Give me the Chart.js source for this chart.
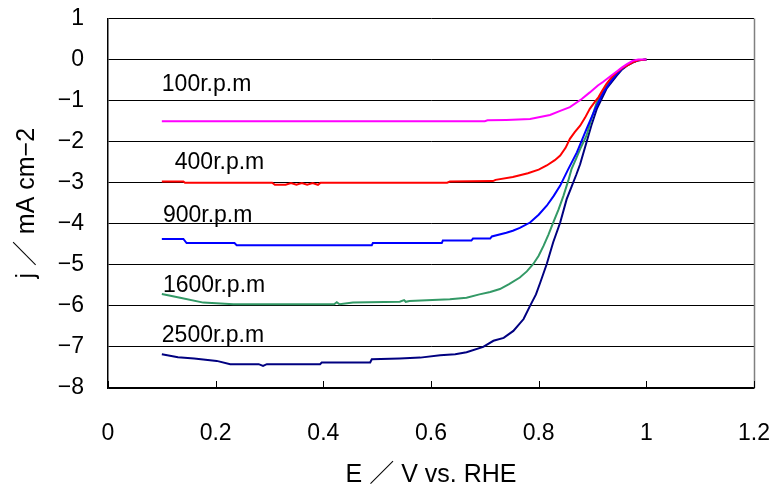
<!DOCTYPE html>
<html>
<head>
<meta charset="utf-8">
<script src="https://cdn.jsdelivr.net/npm/chart.js@4/dist/chart.umd.min.js"></script>
<style>
  html, body { margin: 0; padding: 0; background: #ffffff; }
  #wrap { width: 776px; height: 489px; }
</style>
</head>
<body>
<div id="wrap"><canvas id="rde" width="776" height="489"></canvas></div>
<script>
// Rotating-disk polarisation curves: current density j vs. potential E
const E100 = [0.10, 0.70, 0.705, 0.74, 0.784, 0.821, 0.84, 0.858, 0.88, 0.895, 0.91, 0.92, 0.935, 0.945, 0.955, 0.964, 0.975, 0.985, 1.00];
const J100 = [-1.50, -1.50, -1.48, -1.47, -1.45, -1.35, -1.25, -1.16, -0.96, -0.80, -0.63, -0.54, -0.39, -0.29, -0.19, -0.11, -0.03, 0.00, 0.00];

const E400 = [0.10, 0.14, 0.143, 0.305, 0.31, 0.33, 0.34, 0.35, 0.36, 0.37, 0.38, 0.39, 0.395, 0.63, 0.635, 0.715, 0.72, 0.752, 0.78, 0.80, 0.815, 0.83, 0.84, 0.85, 0.858, 0.867, 0.877, 0.886, 0.895, 0.905, 0.911, 0.918, 0.926, 0.935, 0.945, 0.955, 0.964, 0.975, 0.985, 1.00];
const J400 = [-2.97, -2.97, -3.00, -3.00, -3.05, -3.05, -3.01, -3.05, -3.01, -3.05, -3.01, -3.05, -3.00, -3.00, -2.97, -2.96, -2.93, -2.86, -2.77, -2.68, -2.58, -2.45, -2.34, -2.15, -1.93, -1.77, -1.61, -1.42, -1.20, -1.02, -0.92, -0.76, -0.59, -0.44, -0.31, -0.21, -0.15, -0.07, -0.02, 0.00];

const E900 = [0.10, 0.14, 0.146, 0.235, 0.239, 0.49, 0.492, 0.62, 0.622, 0.675, 0.678, 0.71, 0.713, 0.74, 0.752, 0.765, 0.784, 0.80, 0.815, 0.828, 0.840, 0.855, 0.871, 0.889, 0.905, 0.920, 0.933, 0.945, 0.955, 0.964, 0.975, 0.985, 1.00];
const J900 = [-4.37, -4.37, -4.47, -4.47, -4.52, -4.52, -4.47, -4.47, -4.41, -4.41, -4.36, -4.36, -4.31, -4.22, -4.17, -4.10, -3.97, -3.78, -3.56, -3.32, -3.07, -2.67, -2.26, -1.69, -1.20, -0.80, -0.55, -0.35, -0.22, -0.14, -0.07, -0.02, 0.00];

const E1600 = [0.10, 0.134, 0.177, 0.233, 0.42, 0.425, 0.43, 0.455, 0.542, 0.55, 0.553, 0.56, 0.635, 0.666, 0.69, 0.71, 0.728, 0.745, 0.765, 0.778, 0.790, 0.800, 0.809, 0.818, 0.827, 0.837, 0.846, 0.855, 0.861, 0.870, 0.877, 0.889, 0.898, 0.908, 0.918, 0.930, 0.945, 0.955, 0.964, 0.975, 0.985, 1.00];
const J1600 = [-5.71, -5.80, -5.92, -5.96, -5.96, -5.91, -5.96, -5.92, -5.90, -5.86, -5.90, -5.88, -5.84, -5.80, -5.72, -5.66, -5.59, -5.47, -5.31, -5.16, -4.98, -4.78, -4.54, -4.27, -3.97, -3.65, -3.32, -2.95, -2.67, -2.40, -2.18, -1.85, -1.45, -1.04, -0.80, -0.55, -0.33, -0.21, -0.13, -0.06, -0.02, 0.00];

const E2500 = [0.10, 0.13, 0.16, 0.202, 0.227, 0.28, 0.288, 0.295, 0.394, 0.397, 0.487, 0.49, 0.542, 0.58, 0.617, 0.645, 0.666, 0.697, 0.716, 0.735, 0.753, 0.772, 0.784, 0.795, 0.803, 0.815, 0.827, 0.840, 0.852, 0.861, 0.870, 0.877, 0.889, 0.898, 0.908, 0.926, 0.945, 0.955, 0.964, 0.975, 0.985, 1.00];
const J2500 = [-7.18, -7.25, -7.28, -7.34, -7.42, -7.42, -7.46, -7.42, -7.42, -7.38, -7.38, -7.30, -7.28, -7.26, -7.20, -7.18, -7.13, -7.00, -6.85, -6.78, -6.61, -6.32, -6.00, -5.72, -5.43, -4.98, -4.45, -3.97, -3.40, -3.10, -2.80, -2.55, -2.01, -1.60, -1.20, -0.71, -0.39, -0.24, -0.15, -0.07, -0.02, 0.00];

const speedLabels = ['100r.p.m', '400r.p.m', '900r.p.m', '1600r.p.m', '2500r.p.m'];
const lineColors = ['#ff00ff', '#ff0000', '#0000ff', '#339966', '#000080'];
// where each rotation-speed caption sits, in axis units (E, j)
const labelAnchors = [[0.100, -0.62], [0.124, -2.50], [0.102, -3.81], [0.102, -5.50], [0.100, -6.73]];

const xTicks = [0, 0.2, 0.4, 0.6, 0.8, 1, 1.2];

const FONT = '"Liberation Sans", "Noto Sans CJK JP", Arial, sans-serif';

function pts(E, J) { return E.map((e, i) => ({ x: e, y: J[i] })); }
const series = [pts(E100, J100), pts(E400, J400), pts(E900, J900), pts(E1600, J1600), pts(E2500, J2500)];

// keep the plot frame exactly where the layout padding puts it
function noOverhang(s) {
  s.paddingTop = 0; s.paddingBottom = 0; s.paddingLeft = 0; s.paddingRight = 0;
}

const decorations = {
  id: 'decorations',
  afterDatasetsDraw(chart) {
    const { ctx, chartArea: a, scales: { x, y } } = chart;
    ctx.save();
    // right frame line
    ctx.strokeStyle = '#808080';
    ctx.lineWidth = 1.5;
    ctx.beginPath();
    ctx.moveTo(Math.round(a.right) + 0.5, a.top);
    ctx.lineTo(Math.round(a.right) + 0.5, a.bottom);
    ctx.stroke();
    // inward tick marks on the E axis
    ctx.strokeStyle = '#000000';
    ctx.lineWidth = 1;
    xTicks.forEach(v => {
      const px = Math.round(x.getPixelForValue(v)) + 0.5;
      ctx.beginPath();
      ctx.moveTo(px, a.bottom);
      ctx.lineTo(px, a.bottom - 7);
      ctx.stroke();
    });
    // rotation-speed captions
    ctx.fillStyle = '#000000';
    ctx.font = '23px ' + FONT;
    ctx.textAlign = 'left';
    ctx.textBaseline = 'middle';
    speedLabels.forEach((t, i) => {
      const [ex, jy] = labelAnchors[i];
      ctx.fillText(t, x.getPixelForValue(ex), y.getPixelForValue(jy));
    });
    ctx.restore();
  }
};

new Chart(document.getElementById('rde'), {
  type: 'line',
  data: {
    datasets: series.map((d, i) => ({
      label: speedLabels[i],
      data: d,
      borderColor: lineColors[i],
      backgroundColor: lineColors[i],
      borderWidth: 2,
      pointRadius: 0,
      tension: 0,
      fill: false
    }))
  },
  options: {
    responsive: false,
    animation: false,
    devicePixelRatio: 1,
    layout: { padding: { top: 18.5, right: 22, left: 0, bottom: 0 } },
    plugins: { legend: { display: false }, tooltip: { enabled: false } },
    scales: {
      x: {
        type: 'linear',
        min: 0, max: 1.2,
        afterFit(s) { s.height = 101; noOverhang(s); },
        afterBuildTicks(s) { s.ticks = xTicks.map(v => ({ value: v })); },
        grid: { display: false, drawTicks: false },
        border: { display: true, color: '#000000', width: 1.5 },
        ticks: {
          color: '#000000',
          padding: 32,
          maxRotation: 0,
          autoSkip: false,
          font: { family: FONT, size: 23 },
          callback: v => String(parseFloat(Number(v).toFixed(1)))
        },
        title: {
          display: true,
          text: 'E ／ V vs. RHE',
          color: '#000000',
          font: { family: FONT, size: 25, lineHeight: 1.0 },
          padding: { top: 0, bottom: 1 }
        }
      },
      y: {
        type: 'linear',
        min: -8, max: 1,
        afterFit(s) { s.width = 108; noOverhang(s); },
        grid: { color: '#000000', lineWidth: 1, drawTicks: false },
        border: { display: true, color: '#000000', width: 1.5 },
        ticks: {
          stepSize: 1,
          color: '#000000',
          padding: 24,
          font: { family: FONT, size: 23 },
          callback: v => (v < 0 ? '\u2212' + Math.abs(v) : String(v))
        },
        title: {
          display: true,
          text: 'j ／ mA cm\u22122',
          color: '#000000',
          font: { family: FONT, size: 25, lineHeight: 1.2 },
          padding: { top: 12, bottom: 0 }
        }
      }
    }
  },
  plugins: [decorations]
});
</script>
</body>
</html>
